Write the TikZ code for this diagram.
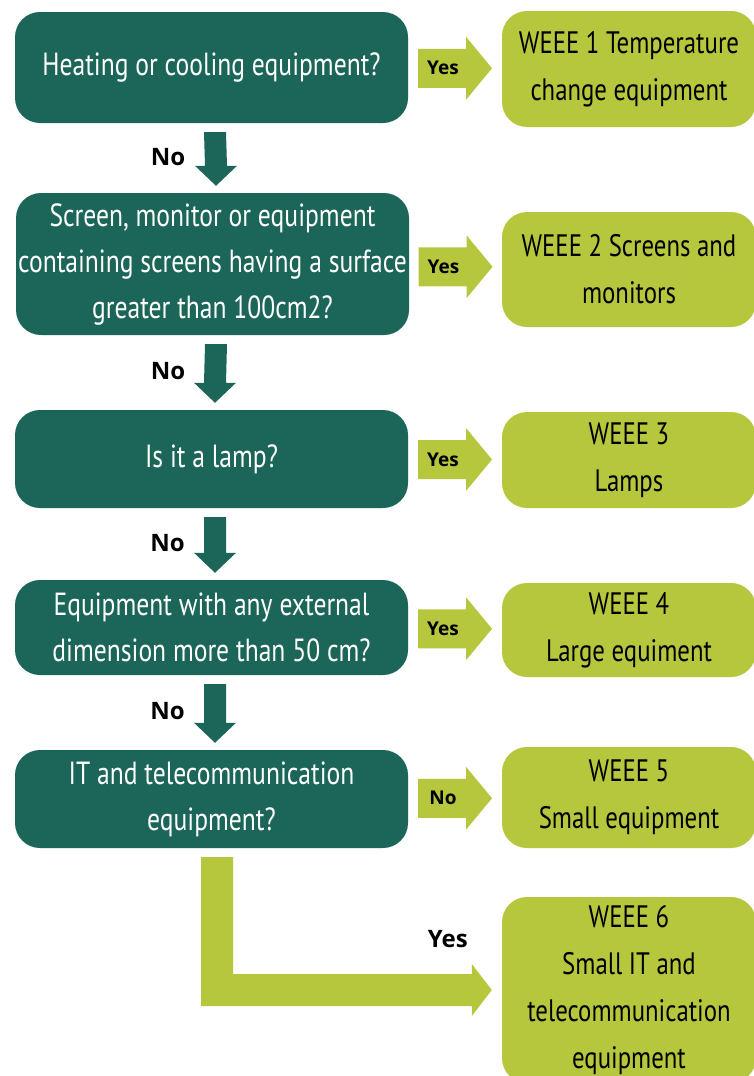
\documentclass[tikz,border=0pt]{standalone}
\usepackage{fontspec}
\newfontfamily\boxfont[FakeStretch=0.8]{PT Sans}
\newfontfamily\labfont{Open Sans}
\usetikzlibrary{calc}
\definecolor{darkg}{RGB}{27,102,88}
\definecolor{lightg}{RGB}{182,199,62}
\tikzset{
  qbox/.style={fill=darkg, text=white, rounded corners=25pt, minimum width=393pt, inner sep=0pt, align=center, font=\boxfont\fontsize{32}{46}\selectfont},
  abox/.style={fill=lightg, text=black, rounded corners=25pt, minimum width=254pt, inner sep=0pt, align=center, font=\boxfont\fontsize{31}{47}\selectfont},
  inlab/.style={text=black, inner sep=0pt, font=\labfont\bfseries\fontsize{19}{22}\selectfont},
  outlab/.style={text=black, inner sep=0pt, font=\labfont\bfseries\fontsize{24}{27}\selectfont},
}
\newcommand{\yesarrow}[4]{%
  \coordinate (#3m) at ($(#1.east)!0.5!(#2.west)$);
  \fill[lightg] ($(#3m)+(-37,-19.5)$) -- ($(#3m)+(11,-19.5)$) -- ($(#3m)+(11,-31.5)$) -- ($(#3m)+(37,0)$) -- ($(#3m)+(11,31.5)$) -- ($(#3m)+(11,19.5)$) -- ($(#3m)+(-37,19.5)$) -- cycle;
  \node[inlab] (#3l) at ($(#3m)+(-12,0)$) {#4};
}
\newcommand{\noarrow}[3]{%
  \coordinate (#3t) at ($(#1.south)+(3.5,9)$);
  \coordinate (#3h) at ($(#2.north)+(3.5,-7)$);
  \fill[darkg] ($(#3t)+(-11,0)$) -- ($(#3t)+(11,0)$) -- ($(#3h)+(11,-20)$) -- ($(#3h)+(21,-20)$) -- (#3h) -- ($(#3h)+(-21,-20)$) -- ($(#3h)+(-11,-20)$) -- cycle;
  \node[outlab, anchor=east] (#3l) at ($(#3t)!0.5!(#3h)+(-30,-2)$) {No};
}
\begin{document}
\begin{tikzpicture}[x=1pt,y=-1pt]
\useasboundingbox (0,0) rectangle (754,1076);
\clip (0,0) rectangle (754,1076);
\fill[white] (0,0) rectangle (754,1076);
% questions
\node[qbox, minimum height=111pt] (q1) at (211.5,67.5) {Heating or cooling equipment?};
\node[qbox, minimum height=142pt] (q2) at (212.5,264) {Screen, monitor or equipment\\containing screens having a surface\\greater than 100cm2?};
\node[qbox, minimum height=98pt] (q3) at (211.5,459) {Is it a lamp?};
\node[qbox, minimum height=95pt] (q4) at (211.5,627.5) {Equipment with any external\\dimension more than 50 cm?};
\node[qbox, minimum height=98pt] (q5) at (211.5,799) {IT and telecommunication\\equipment?};
% answers
\node[abox, minimum height=116pt] (a1) at (629,69) {WEEE 1 Temperature\\change equipment};
\node[abox, minimum height=115pt] (a2) at (629,269.5) {WEEE 2 Screens and\\monitors};
\node[abox, minimum height=96pt] (a3) at (629,460) {WEEE 3\\Lamps};
\node[abox, minimum height=94pt] (a4) at (629,630) {WEEE 4\\Large equiment};
\node[abox, minimum height=101pt] (a5) at (629,797.5) {WEEE 5\\Small equipment};
\node[abox, minimum height=186pt] (a6) at (629,990) {WEEE 6\\Small IT and\\telecommunication\\equipment};
% yes/no side arrows
\yesarrow{q1}{a1}{y1}{Yes}
\yesarrow{q2}{a2}{y2}{Yes}
\yesarrow{q3}{a3}{y3}{Yes}
\yesarrow{q4}{a4}{y4}{Yes}
\yesarrow{q5}{a5}{y5}{No}
% down arrows
\noarrow{q1}{q2}{d1}
\noarrow{q2}{q3}{d2}
\noarrow{q3}{q4}{d3}
\noarrow{q4}{q5}{d4}
% L arrow
\coordinate (lt) at ($(q5.south)+(5.5,9)$);
\coordinate (lh) at ($(a6.west)+(-10,0)$);
\coordinate (lc) at (lt |- lh);
\fill[lightg] ($(lt)+(-16,0)$) -- ($(lt)+(16,0)$) -- ($(lc)+(16,-16)$) -- ($(lh)+(-20,-16)$) -- ($(lh)+(-20,-26)$) -- (lh) -- ($(lh)+(-20,26)$) -- ($(lh)+(-20,16)$) -- ($(lc)+(-16,16)$) -- cycle;
\node[outlab] (y6l) at ($(lh)+(-44,-51)$) {Yes};
\end{tikzpicture}
\end{document}
